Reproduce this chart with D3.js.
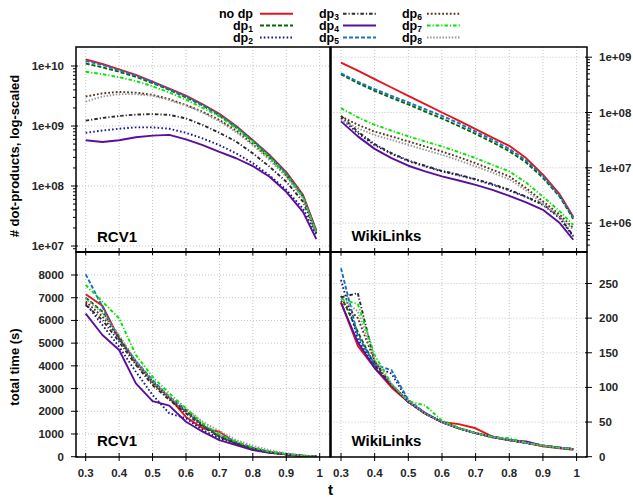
<!DOCTYPE html>
<html><head><meta charset="utf-8">
<script src="https://cdn.jsdelivr.net/npm/d3@7"></script>
<style>
body{margin:0;background:#fff}
svg{display:block}
text{font-family:"Liberation Sans",Arial,Helvetica,sans-serif;font-weight:bold}
</style>
</head><body>
<svg id="chart" width="633" height="500"></svg>
<script>
// ---------------- data ----------------
const tValues = [0.3,0.35,0.4,0.45,0.5,0.55,0.6,0.65,0.7,0.75,0.8,0.85,0.9,0.95,0.99];
const seriesNames = ["no dp","dp1","dp2","dp3","dp4","dp5","dp6","dp7","dp8"];
const xTicks = [0.3,0.4,0.5,0.6,0.7,0.8,0.9,1];
const xTickLabels = ["0.3","0.4","0.5","0.6","0.7","0.8","0.9","1"];
const rcv1DotTicks = [1e7,1e8,1e9,1e10];
const wikiDotTicks = [1e6,1e7,1e8,1e9];
const rcv1TimeTicks = [0,1000,2000,3000,4000,5000,6000,7000,8000];
const wikiTimeTicks = [0,50,100,150,200,250];

// # dot-products, RCV1 (rows in series order)
const rcv1Dots = [
  [1.29e10,1.08e10,8.8e9,7.1e9,5.5e9,4.2e9,3.2e9,2.3e9,1.6e9,1.0e9,5.8e8,3.3e8,1.7e8,7.1e7,1.8e7],
  [1.1e10,9.5e9,8.0e9,6.6e9,5.2e9,4.0e9,3.0e9,2.2e9,1.5e9,9.5e8,5.5e8,3.1e8,1.6e8,6.7e7,1.7e7],
  [7.7e8,8.4e8,9.0e8,9.5e8,9.5e8,9.0e8,7.7e8,6.2e8,4.8e8,3.5e8,2.4e8,1.5e8,8.6e7,4.2e7,1.5e7],
  [1.23e9,1.36e9,1.47e9,1.55e9,1.58e9,1.53e9,1.34e9,1.04e9,7.7e8,5.5e8,3.5e8,2.1e8,1.18e8,5.5e7,1.63e7],
  [5.8e8,5.4e8,5.8e8,6.5e8,6.9e8,7.1e8,6.0e8,4.8e8,3.7e8,2.9e8,2.15e8,1.43e8,8.0e7,3.7e7,1.3e7],
  [1.22e10,1.04e10,8.5e9,6.9e9,5.4e9,4.1e9,3.1e9,2.25e9,1.55e9,9.8e8,5.7e8,3.2e8,1.65e8,6.9e7,1.75e7],
  [3.1e9,3.5e9,3.7e9,3.6e9,3.3e9,2.8e9,2.24e9,1.73e9,1.26e9,8.4e8,5.0e8,2.9e8,1.5e8,6.6e7,1.7e7],
  [8.0e9,7.3e9,6.5e9,5.6e9,4.6e9,3.6e9,2.75e9,2.0e9,1.45e9,9.2e8,5.4e8,3.0e8,1.55e8,6.5e7,1.7e7],
  [2.55e9,3.1e9,3.4e9,3.4e9,3.2e9,2.7e9,2.2e9,1.67e9,1.2e9,7.9e8,4.8e8,2.7e8,1.43e8,6.2e7,1.67e7]
];
// # dot-products, WikiLinks
const wikiDots = [
  [8.0e8,5.7e8,4.0e8,2.83e8,2.0e8,1.42e8,1.0e8,7.1e7,5.0e7,3.5e7,2.5e7,1.5e7,7.5e6,3.3e6,1.3e6],
  [4.9e8,3.4e8,2.47e8,1.84e8,1.4e8,1.04e8,7.8e7,5.7e7,4.1e7,2.9e7,2.0e7,1.25e7,6.6e6,3.0e6,1.2e6],
  [7.9e7,4.2e7,2.57e7,1.79e7,1.32e7,1.06e7,8.6e6,7.3e6,6.1e6,4.9e6,3.9e6,2.95e6,2.14e6,1.23e6,5.7e5],
  [8.7e7,4.5e7,2.68e7,1.84e7,1.36e7,1.09e7,8.8e6,7.5e6,6.2e6,5.1e6,4.0e6,3.0e6,2.2e6,1.28e6,5.9e5],
  [6.9e7,3.7e7,2.2e7,1.5e7,1.09e7,8.6e6,7.0e6,5.9e6,4.9e6,4.0e6,3.1e6,2.36e6,1.74e6,1.0e6,5.0e5],
  [5.1e8,3.6e8,2.64e8,2.0e8,1.52e8,1.15e8,8.7e7,6.4e7,4.5e7,3.2e7,2.2e7,1.36e7,7.1e6,3.1e6,1.25e6],
  [8.5e7,6.0e7,4.5e7,3.7e7,3.0e7,2.43e7,1.97e7,1.56e7,1.21e7,9.2e6,7.0e6,4.3e6,2.47e6,1.42e6,8.1e5],
  [1.2e8,8.2e7,6.0e7,4.7e7,3.7e7,3.0e7,2.43e7,1.92e7,1.5e7,1.13e7,8.6e6,5.4e6,3.0e6,1.63e6,9.3e5],
  [7.4e7,5.2e7,3.9e7,3.2e7,2.6e7,2.1e7,1.72e7,1.36e7,1.06e7,8.2e6,6.2e6,3.9e6,2.23e6,1.28e6,7.6e5]
];
// total time (s), RCV1
const rcv1Time = [
  [7150,6650,5200,4200,3300,2600,1750,1250,1100,600,330,180,100,40,15],
  [7000,6390,5280,4180,3300,2640,2060,1390,880,590,370,200,110,40,15],
  [6750,5800,4840,3740,2720,1910,1690,1170,810,560,320,180,100,40,15],
  [6680,6020,5060,4040,3160,2500,1910,1320,880,590,370,200,110,40,15],
  [6300,5360,4700,3230,2450,2250,1540,1100,730,510,290,175,100,45,15],
  [8030,6600,5140,4210,3380,2640,1980,1390,950,660,400,220,120,45,15],
  [6830,6170,5210,4110,3230,2570,1980,1370,880,590,370,200,110,40,15],
  [7560,6830,6090,4480,3520,2790,2130,1470,980,660,400,220,120,45,15],
  [6970,6310,5360,4210,3300,2640,2130,1540,1130,730,480,290,150,60,15]
];
// total time (s), WikiLinks
const wikiTime = [
  [223,160,128,100,79,62,50,47,41,29,24,20,15,12,10],
  [232,180,132,104,80,63,50,41,34,29,24,20,16,13,11],
  [255,170,130,120,80,62,50,41,34,28,24,20,16,13,11],
  [230,236,137,103,79,62,50,41,34,29,24,20,16,13,11],
  [222,165,128,103,79,63,50,41,34,28,24,22,16,13,11],
  [272,175,133,125,82,63,50,41,34,29,24,20,16,13,11],
  [225,200,138,104,80,62,50,41,34,29,24,20,16,13,11],
  [228,220,147,105,80,74,52,42,34,28,27,20,16,13,11],
  [228,210,140,105,80,62,50,41,34,29,24,20,16,13,11]
];

// ---------------- styles ----------------
const seriesColors = ["#e8141c","#006a00","#18188c","#2a2a2a","#5a0f9c","#1a70c4","#5a3418","#00e600","#9a9a9a"];
const seriesDash = [null,"4,2","1.6,2.2","3.5,2,1.2,2",null,"4,2","1.8,2","3.5,2,1.2,2","1.5,1.6"];

const svg = d3.select("#chart");
const TICK_FILL = "#262626";

function fmtExp(d){ const e=Math.round(Math.log10(d)); return "1e+"+String(e).padStart(2,"0"); }

function drawPanel(o){
  const g = svg.append("g");
  const id = "clip"+o.id;
  svg.append("defs").append("clipPath").attr("id",id)
    .append("rect").attr("x",o.x0).attr("y",o.y0).attr("width",o.x1-o.x0).attr("height",o.y1-o.y0);
  // grid
  xTicks.forEach(t=>{
    g.append("line").attr("x1",o.xs(t)).attr("x2",o.xs(t)).attr("y1",o.y0).attr("y2",o.y1)
      .attr("stroke","#c4c4c4").attr("stroke-width",1).attr("stroke-dasharray","1,2");
  });
  o.yTicks.forEach(t=>{
    g.append("line").attr("x1",o.x0).attr("x2",o.x1).attr("y1",o.ys(t)).attr("y2",o.ys(t))
      .attr("stroke","#c4c4c4").attr("stroke-width",1).attr("stroke-dasharray","1,2");
  });
  // lines
  const line = d3.line().x((d,i)=>o.xs(tValues[i])).y(d=>o.ys(d));
  const lg = g.append("g").attr("clip-path","url(#"+id+")");
  o.data.forEach((row,i)=>{
    lg.append("path").attr("d",line(row)).attr("fill","none")
      .attr("stroke",seriesColors[i]).attr("stroke-width",1.9)
      .attr("stroke-dasharray",seriesDash[i]).attr("stroke-linejoin","round");
  });
  // y ticks + labels
  const axX = o.ySide==="left"? o.x0 : o.x1;
  const dir = o.ySide==="left"? -1 : 1;
  o.yTicks.forEach(t=>{
    const y=o.ys(t);
    g.append("line").attr("x1",axX+dir*5).attr("x2",axX-dir*2).attr("y1",y).attr("y2",y).attr("stroke","#000").attr("stroke-width",1);
    g.append("text").attr("x",o.ySide==="left"? axX-12 : axX+12).attr("y",y+4)
      .attr("text-anchor",o.ySide==="left"?"end":"start").attr("font-size",11.5).attr("fill",TICK_FILL).text(o.yFmt(t));
  });
  if(o.minor){
    o.minor.forEach(t=>{
      const y=o.ys(t);
      if(y<o.y0+1||y>o.y1-1) return;
      g.append("line").attr("x1",axX+dir*3).attr("x2",axX).attr("y1",y).attr("y2",y).attr("stroke","#000").attr("stroke-width",1);
    });
  }
  // x ticks
  xTicks.forEach((t,i)=>{
    const x=o.xs(t);
    g.append("line").attr("x1",x).attr("x2",x).attr("y1",o.y1-4).attr("y2",o.y1+4).attr("stroke","#000").attr("stroke-width",1);
    if(o.xLabels){
      g.append("text").attr("x",x).attr("y",o.y1+20).attr("text-anchor","middle")
        .attr("font-size",11.5).attr("fill",TICK_FILL).text(xTickLabels[i]);
    }
  });
  // panel label
  g.append("text").attr("x",o.x0+21).attr("y",o.labelY).attr("font-size",15).attr("fill","#000").text(o.label);
  // frame
  g.append("rect").attr("x",o.x0).attr("y",o.y0).attr("width",o.x1-o.x0).attr("height",o.y1-o.y0)
    .attr("fill","none").attr("stroke","#000").attr("stroke-width",1.5);
}

function minorLog(lo,hi){
  const out=[];
  for(let e=lo;e<hi;e++) for(let m=2;m<=9;m++) out.push(m*Math.pow(10,e));
  return out;
}

const xsL = d3.scaleLinear().domain([0.3,1]).range([85.7,319.7]);
const xsR = d3.scaleLinear().domain([0.3,1]).range([341,576.6]);

drawPanel({id:"tl",x0:76,x1:330.5,y0:47,y1:252,xs:xsL,
  ys:d3.scaleLog().domain([1e7,1e10]).range([246,66]),
  data:rcv1Dots,yTicks:rcv1DotTicks,yFmt:fmtExp,ySide:"left",xLabels:false,
  label:"RCV1",labelY:242,minor:minorLog(6,10)});
drawPanel({id:"tr",x0:330.5,x1:587,y0:47,y1:252,xs:xsR,
  ys:d3.scaleLog().domain([1e6,1e9]).range([223.1,57.2]),
  data:wikiDots,yTicks:wikiDotTicks,yFmt:fmtExp,ySide:"right",xLabels:false,
  label:"WikiLinks",labelY:241,minor:minorLog(5,9)});
drawPanel({id:"bl",x0:76,x1:330.5,y0:252,y1:457,xs:xsL,
  ys:d3.scaleLinear().domain([0,8000]).range([456.7,275]),
  data:rcv1Time,yTicks:rcv1TimeTicks,yFmt:d=>String(d),ySide:"left",xLabels:true,
  label:"RCV1",labelY:446});
drawPanel({id:"br",x0:330.5,x1:587,y0:252,y1:457,xs:xsR,
  ys:d3.scaleLinear().domain([0,250]).range([456.7,283.5]),
  data:wikiTime,yTicks:wikiTimeTicks,yFmt:d=>String(d),ySide:"right",xLabels:true,
  label:"WikiLinks",labelY:446});

// divider
svg.append("line").attr("x1",330.5).attr("x2",330.5).attr("y1",47).attr("y2",457).attr("stroke","#000").attr("stroke-width",2.2);
svg.append("line").attr("x1",76).attr("x2",587).attr("y1",252).attr("y2",252).attr("stroke","#000").attr("stroke-width",2);

// axis titles
svg.append("text").attr("transform","translate(19,156) rotate(-90)").attr("text-anchor","middle")
  .attr("font-size",13).attr("fill","#000").text("# dot-products, log-scaled");
svg.append("text").attr("transform","translate(19,367) rotate(-90)").attr("text-anchor","middle")
  .attr("font-size",13).attr("fill","#000").text("total time (s)");
svg.append("text").attr("x",330.5).attr("y",495).attr("text-anchor","middle")
  .attr("font-size",15).attr("fill","#000").text("t");

// legend
const colTextRight=[253,339,422], colLine=[260,343,427], rowY=[13.8,25.6,37.4];
seriesNames.forEach((name,i)=>{
  const c=Math.floor(i/3), r=i%3, y=rowY[r];
  svg.append("line").attr("x1",colLine[c]).attr("x2",colLine[c]+33).attr("y1",y).attr("y2",y)
    .attr("stroke",seriesColors[i]).attr("stroke-width",2).attr("stroke-dasharray",seriesDash[i]);
  const t=svg.append("text").attr("x",colTextRight[c]).attr("y",y+4.2).attr("text-anchor","end")
    .attr("font-size",12.5).attr("fill","#000");
  if(name==="no dp"){ t.text(name); }
  else {
    t.append("tspan").text("dp");
    t.append("tspan").attr("font-size",8.5).attr("dy",2.2).text(name.slice(2));
  }
});
</script>
</body></html>
